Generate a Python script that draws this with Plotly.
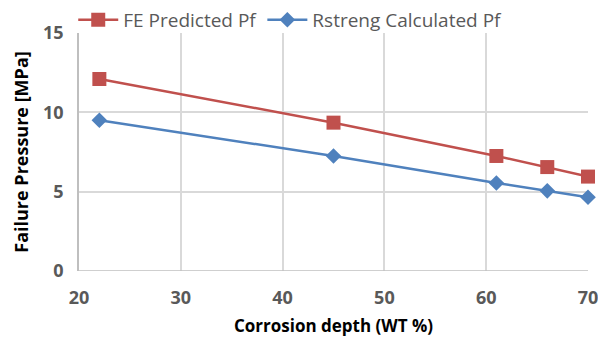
import plotly.graph_objects as go

depth = [22, 45, 61, 66, 70]
fe_pf = [12.1, 9.35, 7.25, 6.55, 5.95]
rstreng_pf = [9.5, 7.25, 5.55, 5.05, 4.65]

fig = go.Figure()
fig.add_trace(go.Scatter(x=depth, y=fe_pf, name="FE Predicted Pf", mode="lines+markers",
                         line=dict(color="#C0504D", width=2.5),
                         marker=dict(symbol="square", size=14, color="#C0504D"), cliponaxis=False))
fig.add_trace(go.Scatter(x=depth, y=rstreng_pf, name="Rstreng Calculated Pf", mode="lines+markers",
                         line=dict(color="#4F81BD", width=2.5),
                         marker=dict(symbol="diamond", size=12, color="#4F81BD"), cliponaxis=False))

fig.update_layout(
    width=598, height=347,
    margin=dict(l=79, r=10, t=33, b=76, autoexpand=False),
    plot_bgcolor="white", paper_bgcolor="white",
    font=dict(family="Open Sans, Liberation Sans, sans-serif", color="#595959"),
    legend=dict(orientation="h", x=0.415, xanchor="center", y=0.975, yanchor="bottom",
                font=dict(size=19, color="#595959"), bgcolor="rgba(0,0,0,0)",
                itemwidth=40, traceorder="normal"),
    showlegend=True,
)
fig.update_xaxes(range=[20, 70], dtick=10, showgrid=True, gridcolor="#d9d9d9", gridwidth=1.5,
                 zeroline=False, showline=False, automargin=False, ticklabeloverflow="allow",
                 tickfont=dict(size=18, color="#595959", family="Open Sans", weight="bold"),
                 ticks="", ticklabelstandoff=14,
                 title=dict(text="<b>Corrosion depth (WT %)</b>", font=dict(size=17, color="black"), standoff=12))
fig.update_yaxes(range=[0, 15], dtick=5, showgrid=True, gridcolor="#d9d9d9", gridwidth=1.5,
                 zeroline=False, showline=True, linecolor="#bfbfbf", linewidth=1.5, automargin=False,
                 ticklabeloverflow="allow",
                 tickfont=dict(size=18, color="#595959", family="Open Sans", weight="bold"),
                 ticks="", ticklabelstandoff=10,
                 title=dict(text="<b>Failure Pressure [MPa]</b>", font=dict(size=18, color="black"), standoff=10))
fig.add_shape(type="line", xref="x", yref="y", x0=20, x1=70, y0=0, y1=0,
              line=dict(color="#bfbfbf", width=1.5))

fig.write_html("out.html")
